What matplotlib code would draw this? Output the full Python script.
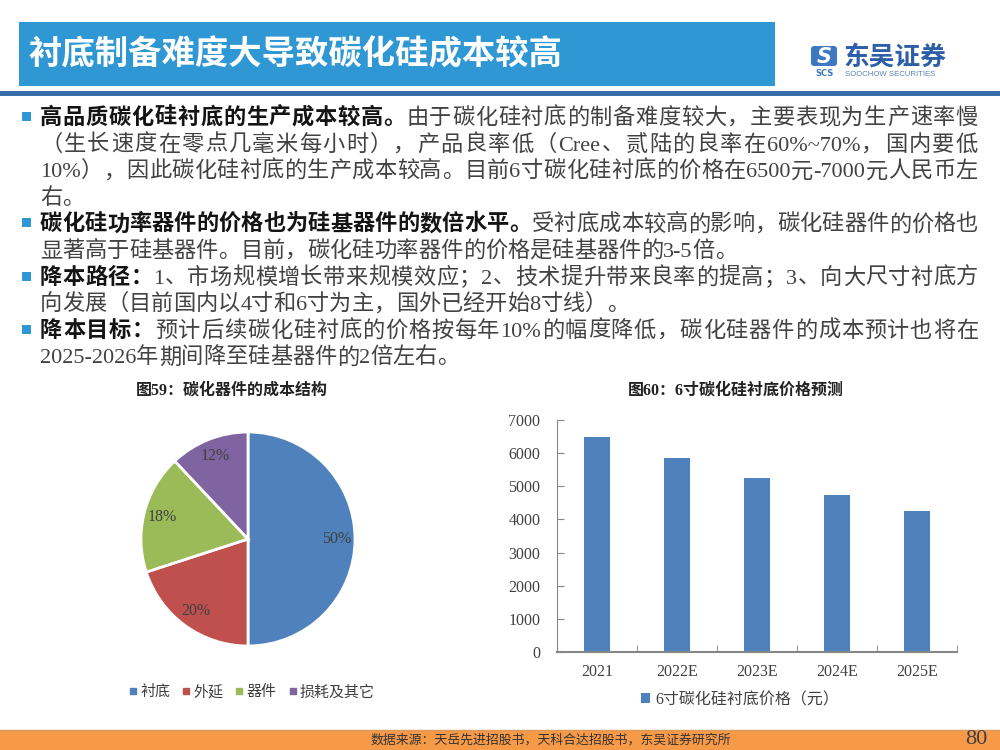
import re
import matplotlib
matplotlib.use('Agg')
import matplotlib.pyplot as plt
from matplotlib.patches import Rectangle, FancyBboxPatch
from matplotlib.lines import Line2D

# ---- data ----
title = '衬底制备难度大导致碳化硅成本较高'

body_lines = [
    [('高品质碳化硅衬底的生产成本较高。', True), ('由于碳化硅衬底的制备难度较大，主要表现为生产速率慢', False)],
    [('（生长速度在零点几毫米每小时），产品良率低（Cree、贰陆的良率在60%~70%，国内要低', False)],
    [('10%），因此碳化硅衬底的生产成本较高。目前6寸碳化硅衬底的价格在6500元-7000元人民币左', False)],
    [('右。', False)],
    [('碳化硅功率器件的价格也为硅基器件的数倍水平。', True), ('受衬底成本较高的影响，碳化硅器件的价格也', False)],
    [('显著高于硅基器件。目前，碳化硅功率器件的价格是硅基器件的3-5倍。', False)],
    [('降本路径：', True), ('1、市场规模增长带来规模效应；2、技术提升带来良率的提高；3、向大尺寸衬底方', False)],
    [('向发展（目前国内以4寸和6寸为主，国外已经开始8寸线）。', False)],
    [('降本目标：', True), ('预计后续碳化硅衬底的价格按每年10%的幅度降低，碳化硅器件的成本预计也将在', False)],
    [('2025-2026年期间降至硅基器件的2倍左右。', False)],
]
bullet_rows = [0, 4, 6, 8]
justified_rows = [0, 1, 2, 4, 6, 8]

pie_title = '图59：碳化器件的成本结构'
pie_labels = ['衬底', '外延', '器件', '损耗及其它']
pie_shares = [50, 20, 18, 12]
pie_colors = ['#4F81BD', '#C0504D', '#9BBB59', '#8064A2']

bar_title = '图60：6寸碳化硅衬底价格预测'
years = ['2021', '2022E', '2023E', '2024E', '2025E']
prices = [6500, 5850, 5265, 4740, 4265]
bar_legend = '6寸碳化硅衬底价格（元）'

source = '数据来源：天岳先进招股书，天科合达招股书，东吴证券研究所'
page_no = '80'

# ---- fonts ----
CJK = ['Noto Sans CJK SC', 'DejaVu Sans']
MIX = ['Liberation Serif', 'Noto Sans CJK SC', 'DejaVu Sans']
plt.rcParams['font.family'] = CJK

fig = plt.figure(figsize=(10, 7.5), dpi=100)
bg = fig.add_axes([0, 0, 1, 1])
bg.set_xlim(0, 1000)
bg.set_ylim(750, 0)
bg.axis('off')
renderer = fig.canvas.get_renderer()

# header
bg.add_patch(Rectangle((19, 22), 756, 64, color='#2F97D3', lw=0))
bg.text(28, 55, title, color='white', fontsize=24, fontweight='bold',
        va='center', ha='left', family=CJK)
bg.add_patch(Rectangle((0, 91), 1000, 5, color='#3B6EA8', lw=0))

# logo
bg.add_patch(FancyBboxPatch((811, 46), 26, 20, boxstyle='round,pad=0,rounding_size=3',
                            color='#3F78C2', lw=0))
bg.text(824, 57, 'S', color='white', fontsize=15, fontweight='bold', style='italic',
        ha='center', va='center', family=['DejaVu Sans'])
bg.text(824, 73, 'SCS', color='#3F78C2', fontsize=6, fontweight='bold',
        ha='center', va='center', family=['DejaVu Sans'])
bg.text(843, 57, '东吴证券', color='#2D5FA8', fontsize=18.5, fontweight='bold',
        ha='left', va='center', family=CJK)
bg.text(845, 74, 'SOOCHOW SECURITIES', color='#5E82B8', fontsize=5.6,
        ha='left', va='center', family=['Liberation Sans'])


# body text, justified like the slide
def put_line(y, parts, justify, x0=40, x1=978):
    texts = []
    for s, bold in parts:
        for tok in re.findall(r'[A-Za-z0-9%~.\-]+|.', s):
            t = bg.text(0, y + 7, tok, fontsize=16, va='baseline', ha='left',
                        family=MIX, fontweight='bold' if bold else 'normal',
                        color='#141414' if bold else '#424242')
            texts.append(t)
    widths = [t.get_window_extent(renderer).width for t in texts]
    extra = 0
    if justify and len(texts) > 1:
        extra = (x1 - x0 - sum(widths)) / (len(texts) - 1)
    x = x0
    for t, w in zip(texts, widths):
        t.set_x(x)
        x += w + extra


for i, parts in enumerate(body_lines):
    y = 117 + i * 26.6
    put_line(y, parts, i in justified_rows)
    if i in bullet_rows:
        bg.add_patch(Rectangle((22, y - 5), 9, 9, color='#2F97D3', lw=0))

# chart titles
bg.text(232, 391, pie_title, fontsize=11.5, fontweight='bold', ha='center',
        va='center', family=MIX, color='#222222')
bg.text(736, 391, bar_title, fontsize=11.5, fontweight='bold', ha='center',
        va='center', family=MIX, color='#222222')

# pie
ax_pie = fig.add_axes([0.141, (750 - 646) / 750, 0.214, 214 / 750])
wedges, _, autotexts = ax_pie.pie(
    pie_shares, colors=pie_colors, startangle=90, counterclock=False,
    autopct=lambda p: f'{p:.0f}%', pctdistance=0.83,
    wedgeprops=dict(edgecolor='white', linewidth=2),
    textprops=dict(fontsize=11.5, color='#404040', family=MIX))
ax_pie.set_xlim(-1, 1)
ax_pie.set_ylim(-1, 1)
ax_pie.set_aspect('equal')
pie_handles = [Line2D([], [], marker='s', ls='', color=c, markersize=4.5) for c in pie_colors]
ax_pie.legend(pie_handles, pie_labels, loc='center', ncol=4, frameon=False,
              bbox_to_anchor=(252, 692), bbox_transform=bg.transData,
              handlelength=0.5, handletextpad=0.25, columnspacing=0.8,
              prop=dict(family=CJK, size=10.8), labelcolor='#404040')

# bars
ax_bar = fig.add_axes([0.557, (750 - 652) / 750, 0.400, 232 / 750])
x = list(range(len(years)))
ax_bar.bar(x, prices, width=0.32, color='#4F81BD', label=bar_legend)
ax_bar.set_xlim(-0.5, len(years) - 0.5)
ax_bar.set_ylim(0, 7000)
ax_bar.set_yticks(range(0, 7001, 1000))
ax_bar.set_xticks(x)
ax_bar.set_xticklabels(years)
ax_bar.set_xticks([i + 0.5 for i in x], minor=True)
for s in ['top', 'right']:
    ax_bar.spines[s].set_visible(False)
for s in ['left', 'bottom']:
    ax_bar.spines[s].set_color('#868686')
ax_bar.spines['bottom'].set_linewidth(1.5)
ax_bar.tick_params(axis='y', direction='in', length=5, color='#868686', pad=12,
                   labelsize=11.5, labelcolor='#404040')
ax_bar.tick_params(axis='x', which='major', length=0, pad=9, labelsize=11.5,
                   labelcolor='#404040')
ax_bar.tick_params(axis='x', which='minor', direction='in', length=5, color='#868686')
for lab in ax_bar.get_xticklabels() + ax_bar.get_yticklabels():
    lab.set_family(MIX)
ax_bar.legend(loc='center', bbox_to_anchor=(740, 700), bbox_transform=bg.transData,
              frameon=False, handlelength=0.6, handleheight=0.6, handletextpad=0.3,
              prop=dict(family=MIX, size=11.5), labelcolor='#404040')

# footer
bg.add_patch(Rectangle((0, 730), 1000, 20, color='#F79A48', lw=0))
bg.plot([0, 1000], [730, 730], color='#D99A5E', lw=1)
bg.text(370, 740, source, fontsize=9.3, ha='left', va='center', color='#333333', family=CJK)
bg.text(976, 739, page_no, fontsize=16, ha='center', va='center', color='#404040',
        family=MIX)

fig.savefig('out.png', dpi=100)
